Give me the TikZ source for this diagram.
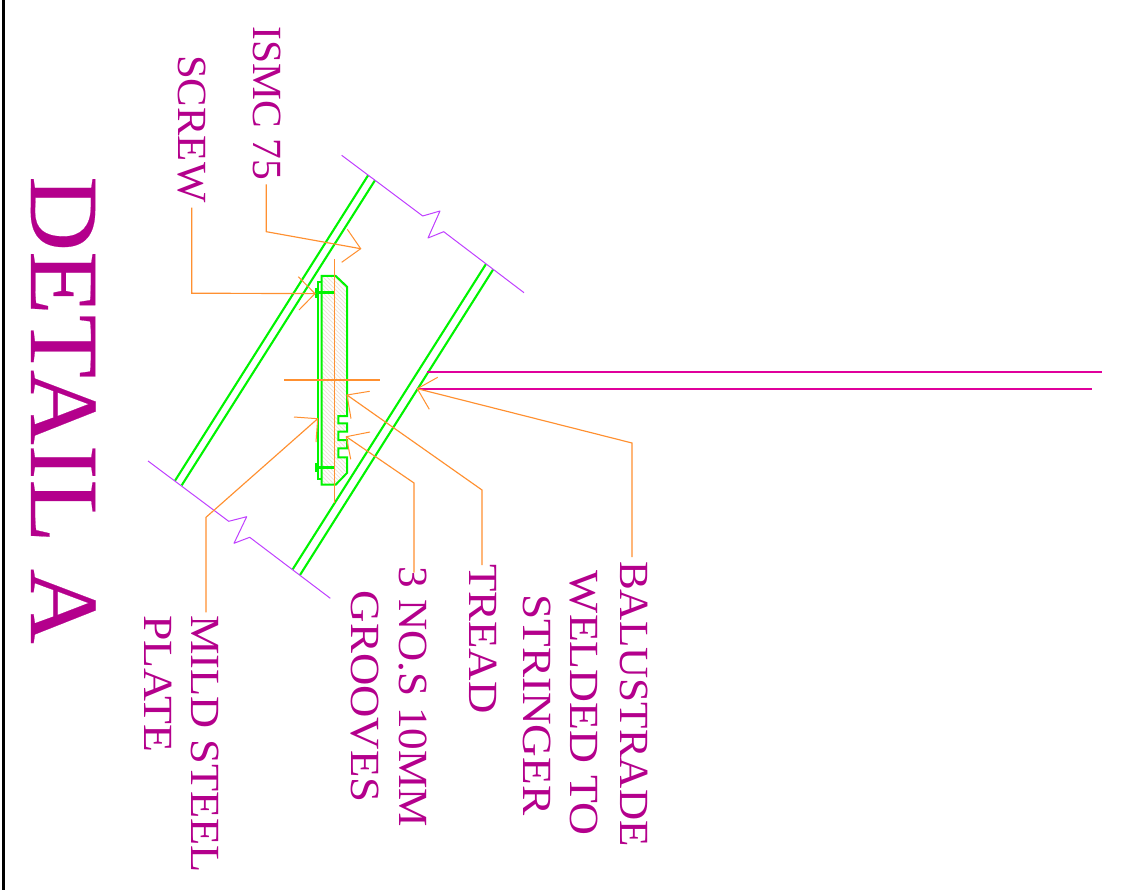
\documentclass[tikz,border=0pt]{standalone}
\usepackage{fontspec}
\setmainfont{Liberation Serif}
\newfontfamily\ttlfont[FakeBold=0.2]{Liberation Serif}
\definecolor{txtc}{HTML}{B4008C}
\definecolor{balc}{HTML}{E0009C}
\definecolor{grn}{HTML}{00F400}
\definecolor{pur}{HTML}{C040FF}
\definecolor{ora}{HTML}{FF9030}
\definecolor{hat}{HTML}{EEE4D8}
\tikzset{
 lbl/.style={inner sep=0pt,anchor=base west,rotate=-90,text=txtc,font=\fontsize{41.5}{45}\selectfont},
 ttl/.style={inner sep=0pt,anchor=base west,rotate=-90,text=txtc,font=\ttlfont\fontsize{98}{100}\selectfont},
 leader/.style={draw=ora,line width=1.15pt},
 barb/.style={draw=ora,line width=1pt},
 stringer/.style={draw=grn,line width=2.1pt},
 outline/.style={draw=grn,line width=2pt},
 screwbar/.style={draw=grn,line width=3.6pt},
 breakline/.style={draw=pur,line width=1pt},
 baluster/.style={draw=balc,line width=2.4pt},
}
\begin{document}
\begin{tikzpicture}[x=1pt,y=-1pt]
\useasboundingbox (0,0) rectangle (1124,890);
\fill[white] (0,0) rectangle (1124,890);
\draw[black,line width=2.4pt] (3.4,0) -- (3.4,890);
% tread hatch
\begin{scope}
\clip (321.7,276) -- (335.7,276) -- (347,286.7) -- (347,416) -- (338.3,416) -- (338.3,423.3) -- (347,423.3) -- (347,431.7) -- (338.3,431.7) -- (338.3,440) -- (347,440) -- (347,448.3) -- (338.3,448.3) -- (338.3,457.3) -- (347,457.3) -- (347,473) -- (335.7,484.7) -- (321.7,484.7) -- cycle;
\foreach \k in {-170,-166,...,200}{\draw[hat,line width=.9pt] (300,276+\k) -- (360,336+\k);}
\end{scope}
% stringers
\coordinate (s1a) at (368.3,175); \coordinate (s1b) at (175,480.7);
\coordinate (s2a) at (375,180.3); \coordinate (s2b) at (181.7,485.3);
\coordinate (s3a) at (486,264);   \coordinate (s3b) at (292.7,569.3);
\coordinate (s4a) at (493,269.7); \coordinate (s4b) at (300,575);
\draw[stringer] (s1a) -- (s1b);
\draw[stringer] (s2a) -- (s2b);
\draw[stringer] (s3a) -- (s3b);
\draw[stringer] (s4a) -- (s4b);
% break lines
\draw[breakline,line join=round] (341.7,155.3) -- (422.7,216) -- (440,211) -- (428,238) -- (443.7,231.7) -- (524,292.7);
\draw[breakline,line join=round] (148,461) -- (228.7,521.3) -- (246.7,516.7) -- (234,543.3) -- (249.7,537.3) -- (330.3,598.3);
% plate
\draw[outline] (321.7,282) -- (317.7,282) -- (317.7,478.7) -- (321.7,478.7);
% tread outline
\draw[outline] (321.7,276) -- (335.7,276) -- (347,286.7) -- (347,416) -- (338.3,416) -- (338.3,423.3) -- (347,423.3) -- (347,431.7) -- (338.3,431.7) -- (338.3,440) -- (347,440) -- (347,448.3) -- (338.3,448.3) -- (338.3,457.3) -- (347,457.3) -- (347,473) -- (335.7,484.7) -- (321.7,484.7) -- cycle;
% screws
\draw[screwbar] (315,292.7) -- (334,292.7);
\draw[screwbar] (316.5,288) -- (316.5,298);
\draw[screwbar] (315,467.3) -- (334,467.3);
\draw[screwbar] (316.5,462.7) -- (316.5,472);
% centre lines
\draw[leader] (334.3,259.3) -- (334.3,503);
\draw[leader] (284.3,380) -- (380,380);
% balustrade
\draw[baluster] (427.3,372) -- (1102.3,372);
\draw[baluster] (417.3,388.7) -- (1091.7,388.7);
% labels
\node[lbl] (ismc) at (253,26.7) {ISMC 75};
\node[lbl,xscale=1.03] (screw) at (178.8,55) {SCREW};
\node[lbl,xscale=1.07] (mild) at (191,615) {MILD STEEL};
\node[lbl,xscale=1.1] (plate) at (144.5,615) {PLATE};
\node[lbl,xscale=1.04] (nos) at (399,566.7) {3 NO.S 10MM};
\node[lbl,xscale=1.08] (groove) at (351,590.7) {GROOVES};
\node[lbl,xscale=1.08] (tread) at (469.5,564) {TREAD};
\node[lbl,xscale=1.04] (bal) at (620,561) {BALUSTRADE};
\node[lbl,xscale=1.1] (weld) at (570,570.7) {WELDED TO};
\node[lbl,xscale=1.09] (str) at (523,594) {STRINGER};
\node[ttl,xscale=1.06] (title) at (31,176) {DETAIL A};
% leaders
\coordinate (tipI) at (360.7,248.7);
\draw[leader] (266.3,184.3) -- (266.3,231.7) -- (tipI);
\draw[barb] (347.3,229.3) -- (tipI) -- (341.7,262.3);
\coordinate (tipS) at (315,293.6);
\draw[leader] (191.7,207.7) -- (191.8,293.2) -- (tipS);
\draw[barb] (298.3,276.7) -- (tipS) -- (299,310);
\coordinate (tipM) at (317.7,418.7);
\draw[leader] (206,612.3) -- (206,517.3) -- (tipM);
\draw[barb] (294,417) -- (tipM) -- (316,442);
\coordinate (tipG) at (346.3,436.7);
\draw[leader] (414,572.7) -- (414,483) -- (tipG);
\draw[barb] (370,432) -- (tipG) -- (350.7,459.3);
\coordinate (tipT) at (347,395);
\draw[leader] (482,565) -- (482,490) -- (tipT);
\draw[barb] (369.7,391.3) -- (tipT) -- (351,418.7);
\coordinate (tipB) at (417.3,388.7);
\draw[leader] (632,557) -- (632,443) -- (tipB);
\draw[barb] (437.7,377.3) -- (tipB) -- (429.3,409.3);
\end{tikzpicture}
\end{document}
